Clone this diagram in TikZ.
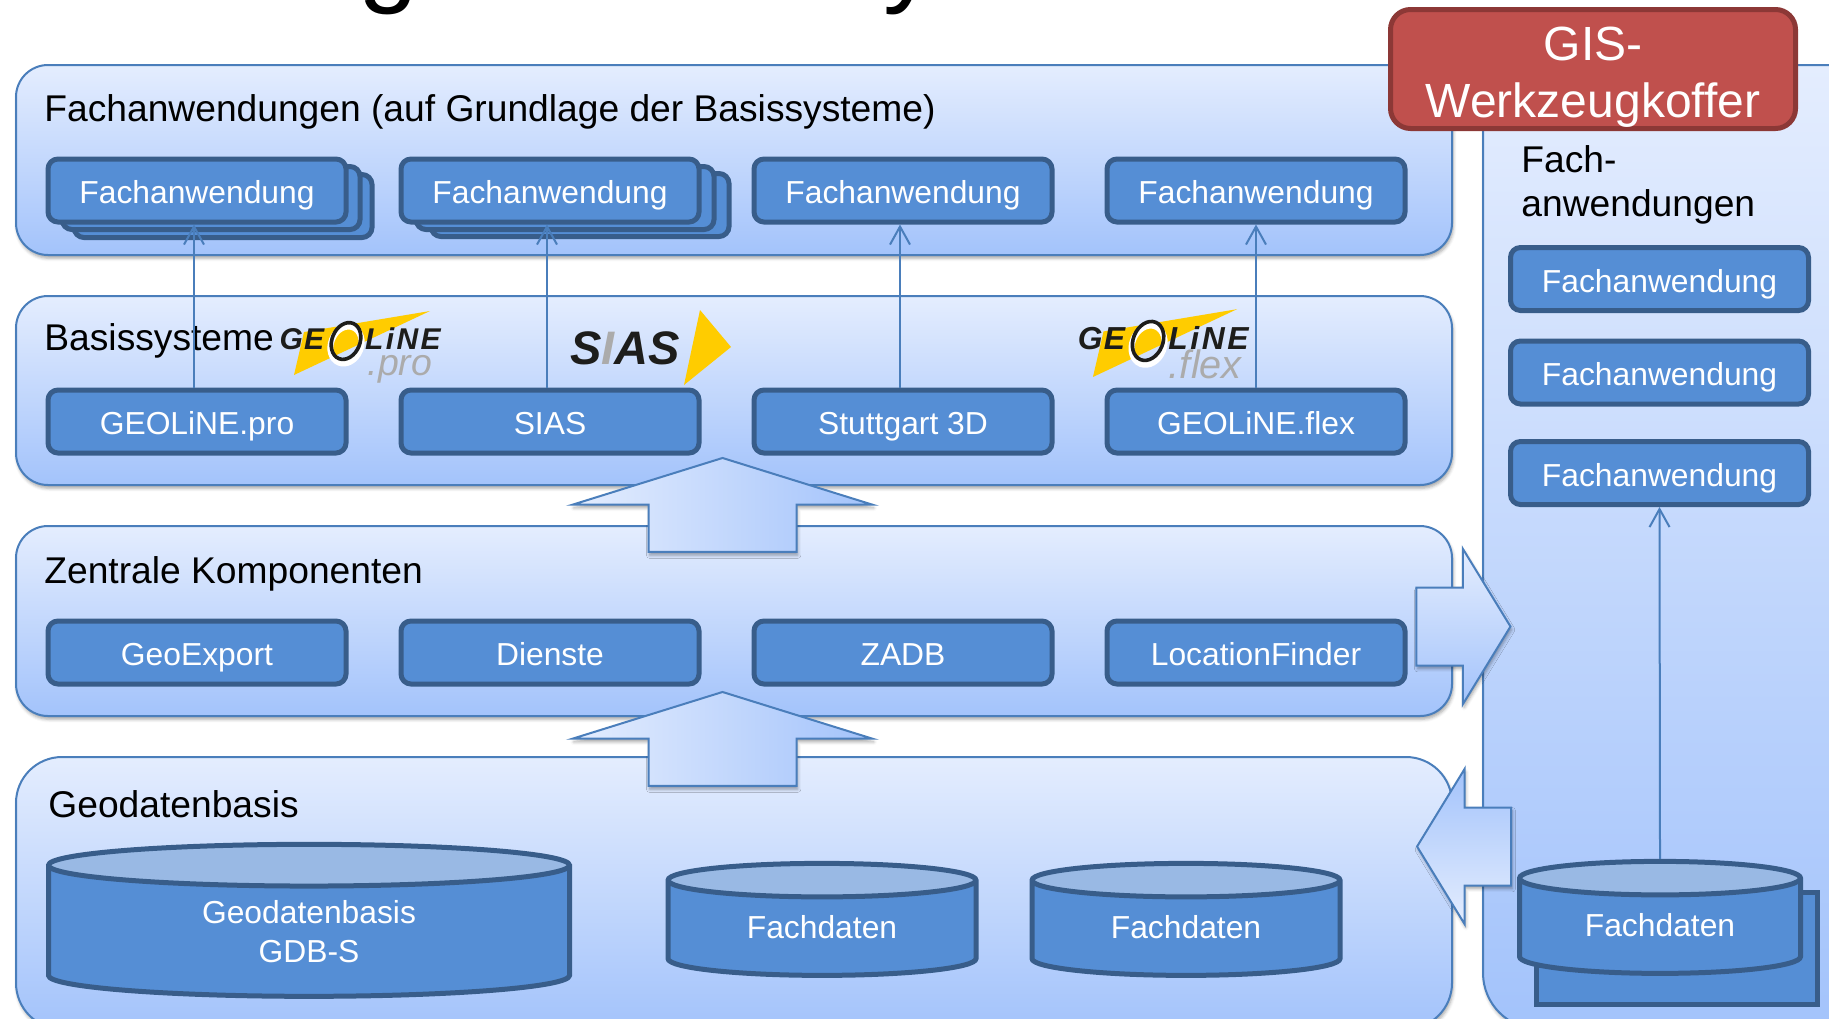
\documentclass[tikz,border=0pt]{standalone}
\usepackage{fontspec}
\setmainfont{Liberation Sans}
\usetikzlibrary{shapes.geometric,shapes.arrows,arrows.meta,positioning,shadows.blur}

\definecolor{panelline}{HTML}{4A7EBB}
\definecolor{paneltop}{HTML}{E4EDFE}
\definecolor{panelbottom}{HTML}{A3C3FB}
\definecolor{boxblue}{HTML}{558ED5}
\definecolor{boxline}{HTML}{385D8A}
\definecolor{capblue}{HTML}{99B9E4}
\definecolor{toolred}{HTML}{C0504D}
\definecolor{toolline}{HTML}{8C3836}
\definecolor{logoyellow}{HTML}{FFCC00}
\definecolor{logogray}{HTML}{ABABAB}
\definecolor{logoblack}{HTML}{1D1D1B}

\newcommand{\boxfont}{\fontsize{15.9}{19.4}\selectfont}
\newcommand{\labelfont}{\fontsize{18.6}{22}\selectfont}
\newcommand{\toolfont}{\fontsize{24}{28.5}\selectfont}
\newcommand{\logosub}{}

\tikzset{
  softshadow/.style={blur shadow={shadow xshift=0.6pt,shadow yshift=-1.6pt,shadow blur radius=1.6pt,shadow opacity=35}},
  panel/.style={draw=panelline,line width=1pt,rounded corners=#1,top color=paneltop,bottom color=panelbottom,softshadow},
  paneltext/.style={anchor=base west,font=\labelfont,inner sep=0pt},
  fabox/.style={draw=boxline,line width=2.5pt,fill=boxblue,rounded corners=5pt,text=white,font=\boxfont,
    minimum width=149pt,minimum height=31.5pt,inner sep=0pt,text height=15pt,text depth=2pt},
  datacyl/.style={cylinder,shape border rotate=90,draw=boxline,line width=2.5pt,cylinder uses custom fill,
    cylinder body fill=boxblue,cylinder end fill=capblue,text=white,font=\boxfont,align=center,inner sep=0pt},
  smallcyl/.style={datacyl,minimum height=56pt,aspect=0.223,text depth=2.4pt},
  conn/.style={draw=panelline,line width=1pt,-{Straight Barb[length=9pt,width=10pt]}},
  bigarrow/.style={single arrow,draw=panelline,line width=1pt,softshadow,minimum height=47pt},
  uparrow/.style={bigarrow,shape border rotate=90,inner ysep=0pt,inner xsep=36.5pt,single arrow head extend=38pt,
    single arrow tip angle=145.4,left color=paneltop,right color=panelbottom},
  sidearrow/.style={bigarrow,inner xsep=0pt,inner ysep=19pt,single arrow head extend=19.25pt,single arrow tip angle=117},
  pics/geolinelogo/.style={code={
    \fill[logoyellow] (85,-31) -- (-41,-10) -- (-51,33) -- cycle;
    \draw[white,line width=3pt] (1,3) ellipse [x radius=15,y radius=19,rotate=-22];
    \draw[logoblack,line width=1.8pt] (1,-1) ellipse [x radius=14,y radius=19,rotate=-22];
    \node (-ge) at (-43,7) [anchor=base,inner sep=0pt,text=logoblack,font=\fontsize{15}{18}\selectfont\bfseries\itshape\addfontfeature{LetterSpace=4}] {GE};
    \node (-line) at (58,7) [anchor=base,inner sep=0pt,text=logoblack,font=\fontsize{15}{18}\selectfont\bfseries\itshape\addfontfeature{LetterSpace=8}] {LiNE};
    \node (-sub) at (55,#1) [anchor=base,inner sep=0pt,text=logogray,font=\fontsize{18.7}{20}\selectfont\itshape] {\logosub};
  }}
}

\begin{document}
\begin{tikzpicture}[x=0.5pt,y=-0.5pt]
  \useasboundingbox (0,0) rectangle (1829,1018);
  \clip (0,0) rectangle (1829,1018);

  % title, cut off by the page
  \node (titleG) at (389,-8) [anchor=base,inner sep=0pt,font=\fontsize{54}{54}\selectfont] {g};
  \node (titleY) at (910,-8) [anchor=base,inner sep=0pt,font=\fontsize{54}{54}\selectfont] {y};

  % panels
  \node (panelFach) at (734,160)
        [panel=16pt,minimum width=718pt,minimum height=95pt] {};
  \node (panelBasis) at (734,390.5)
        [panel=16pt,minimum width=718pt,minimum height=94.5pt] {};
  \node (panelZentral) at (734,621)
        [panel=16pt,minimum width=718pt,minimum height=95pt] {};
  \node (panelGeo) at (734,893)
        [panel=23pt,minimum width=718pt,minimum height=136pt] {};
  \node (panelRight) at (1716,547)
        [panel=28pt,minimum width=233pt,minimum height=482pt] {};

  \node (labelFach) at (44,121) [paneltext] {Fachanwendungen (auf Grundlage der Basissysteme)};
  \node (labelBasis) at (44,350) [paneltext] {Basissysteme};
  \node (labelZentral) at (44,583) [paneltext] {Zentrale Komponenten};
  \node (labelGeo) at (48,817) [paneltext] {Geodatenbasis};
  \node (labelRight) at (1521,216) [paneltext,align=left] {Fach-\\anwendungen};

  % logos
  \renewcommand{\logosub}{.pro}
  \pic (logoPro) at (345,342) {geolinelogo=33};
  \fill[logoyellow] (700,310) -- (731,347) -- (684,385) -- cycle;
  \node (logoSias) at (625,364)
        [anchor=base,inner sep=0pt,text=logoblack,font=\fontsize{23.5}{26}\selectfont\bfseries\itshape]
        {S\textcolor{logogray}{I}AS};
  \renewcommand{\logosub}{.flex}
  \pic (logoFlex) [scale=1.06,transform shape] at (1147,342) {geolinelogo=34};

  % stacked boxes, the hindmost first
  \node (fachAc) at (223,206) [fabox] {};
  \node (fachAb) at (211,198) [fabox] {};
  \node (fachBc) at (580,205) [fabox] {};
  \node (fachBb) at (565,198) [fabox] {};

  \node (fachA) at (197,190.5) [fabox] {Fachanwendung};
  \node (fachB) [fabox,right=25pt of fachA] {Fachanwendung};
  \node (fachC) [fabox,right=25pt of fachB] {Fachanwendung};
  \node (fachD) [fabox,right=25pt of fachC] {Fachanwendung};

  \node (geoPro) [fabox,below=81.5pt of fachA] {GEOLiNE.pro};
  \node (sias) [fabox,below=81.5pt of fachB] {SIAS};
  \node (stuttgart) [fabox,below=81.5pt of fachC] {Stuttgart 3D};
  \node (geoFlex) [fabox,below=81.5pt of fachD] {GEOLiNE.flex};

  \node (geoExport) [fabox,below=81.5pt of geoPro] {GeoExport};
  \node (dienste) [fabox,below=81.5pt of sias] {Dienste};
  \node (zadb) [fabox,below=81.5pt of stuttgart] {ZADB};
  \node (finder) [fabox,below=81.5pt of geoFlex] {LocationFinder};

  \node (rightA) at (1659.5,279) [fabox] {Fachanwendung};
  \node (rightB) at (1659.5,372.5) [fabox] {Fachanwendung};
  \node (rightC) at (1659.5,473) [fabox] {Fachanwendung};

  % data stores
  \node (gdb) at (309,932)
        [datacyl,minimum width=260.5pt,minimum height=76pt,aspect=0.195]
        {Geodatenbasis\\GDB-S};
  \node (fachdatenA) at (822,929)
        [smallcyl,minimum width=154pt]
        {Fachdaten};
  \node (fachdatenB) at (1186,929)
        [smallcyl,minimum width=154pt]
        {Fachdaten};
  \node (fachdatenRc) at (1677,950)
        [smallcyl,minimum width=140.5pt] {};
  \node (fachdatenR) at (1660,927)
        [smallcyl,minimum width=140.5pt]
        {Fachdaten};

  % block arrows
  \node (upperArrow) at (722.5,516.5) [uparrow] {};
  \node (lowerArrow) at (722.5,750.5) [uparrow] {};
  \node (rightArrow) at (1451.5,626.5)
        [sidearrow,top color=paneltop,bottom color=panelbottom] {};
  \node (leftArrow) at (1476,846.5)
        [sidearrow,shape border rotate=180,top color=panelbottom,bottom color=paneltop] {};

  % tool case on top
  \node (toolCase) at (1593,69)
        [draw=toolline,line width=2.5pt,fill=toolred,rounded corners=10pt,text=white,font=\toolfont,align=center,
         minimum width=202.5pt,minimum height=59.5pt,inner sep=0pt]
        {\rule{0pt}{25pt}GIS-\\Werkzeugkoffer};

  \draw[conn] ([xshift=-1.5pt]geoPro.north) -- ([xshift=-1.5pt]fachA.south);
  \draw[conn] ([xshift=-1.5pt]sias.north) -- ([xshift=-1.5pt]fachB.south);
  \draw[conn] ([xshift=-1.5pt]stuttgart.north) -- ([xshift=-1.5pt]fachC.south);
  \draw[conn] (geoFlex.north) -- (fachD.south);
  \draw[conn] (fachdatenR.north) -- (rightC.south);
\end{tikzpicture}
\end{document}
